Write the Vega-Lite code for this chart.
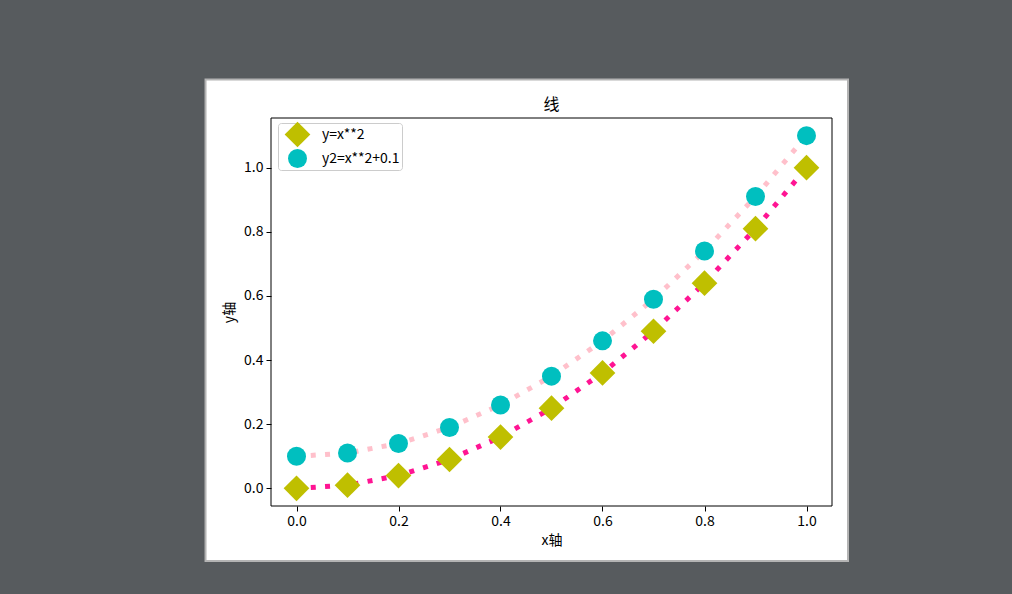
{
  "$schema": "https://vega.github.io/schema/vega-lite/v6.json",
  "width": 561,
  "height": 388,
  "autosize": {"type": "none"},
  "padding": {"left": 271, "top": 118, "right": 180, "bottom": 88},
  "background": "white",
  "config": {
    "font": "Noto Sans CJK SC",
    "view": {"stroke": null},
    "legend": {
      "title": null,
      "orient": "none",
      "legendX": 7,
      "legendY": 5,
      "fillColor": "white",
      "strokeColor": "#cccccc",
      "cornerRadius": 3,
      "padding": 2,
      "rowPadding": 1,
      "symbolSize": 400,
      "symbolOffset": 8,
      "symbolOpacity": 1,
      "symbolStrokeWidth": 0,
      "labelFontSize": 14,
      "labelColor": "black",
      "labelOffset": 15
    }
  },
  "title": {
    "text": "线",
    "fontSize": 16,
    "fontWeight": "normal",
    "color": "black",
    "anchor": "middle",
    "frame": "group",
    "baseline": "bottom",
    "offset": 0,
    "dy": 450,
    "zindex": 1
  },
  "data": {
    "values": [
      {"x": 0.0, "y": 0.0, "series": "y=x**2"},
      {"x": 0.1, "y": 0.01, "series": "y=x**2"},
      {"x": 0.2, "y": 0.04, "series": "y=x**2"},
      {"x": 0.3, "y": 0.09, "series": "y=x**2"},
      {"x": 0.4, "y": 0.16, "series": "y=x**2"},
      {"x": 0.5, "y": 0.25, "series": "y=x**2"},
      {"x": 0.6, "y": 0.36, "series": "y=x**2"},
      {"x": 0.7, "y": 0.49, "series": "y=x**2"},
      {"x": 0.8, "y": 0.64, "series": "y=x**2"},
      {"x": 0.9, "y": 0.81, "series": "y=x**2"},
      {"x": 1.0, "y": 1.0, "series": "y=x**2"},
      {"x": 0.0, "y": 0.1, "series": "y2=x**2+0.1"},
      {"x": 0.1, "y": 0.11, "series": "y2=x**2+0.1"},
      {"x": 0.2, "y": 0.14, "series": "y2=x**2+0.1"},
      {"x": 0.3, "y": 0.19, "series": "y2=x**2+0.1"},
      {"x": 0.4, "y": 0.26, "series": "y2=x**2+0.1"},
      {"x": 0.5, "y": 0.35, "series": "y2=x**2+0.1"},
      {"x": 0.6, "y": 0.46, "series": "y2=x**2+0.1"},
      {"x": 0.7, "y": 0.59, "series": "y2=x**2+0.1"},
      {"x": 0.8, "y": 0.74, "series": "y2=x**2+0.1"},
      {"x": 0.9, "y": 0.91, "series": "y2=x**2+0.1"},
      {"x": 1.0, "y": 1.1, "series": "y2=x**2+0.1"}
    ]
  },
  "layer": [
    {
      "data": {"values": [{}]},
      "mark": {"type": "rect", "fill": "transparent", "stroke": "#575b5e", "strokeWidth": 400},
      "encoding": {
        "x": {"datum": -0.5706, "type": "quantitative", "scale": {"domain": [-0.05, 1.05], "nice": false, "zero": false}},
        "x2": {"datum": 1.4735},
        "y": {"datum": 1.8989, "type": "quantitative", "scale": {"domain": [-0.055, 1.155], "nice": false, "zero": false}},
        "y2": {"datum": -0.8501}
      }
    },
    {
      "data": {"values": [{}]},
      "mark": {"type": "rect", "fill": "transparent", "stroke": "#b4b4b4", "strokeWidth": 2},
      "encoding": {
        "x": {"datum": -0.1784, "type": "quantitative", "scale": {"domain": [-0.05, 1.05], "nice": false, "zero": false}},
        "x2": {"datum": 1.0814},
        "y": {"datum": 1.2752, "type": "quantitative", "scale": {"domain": [-0.055, 1.155], "nice": false, "zero": false}},
        "y2": {"datum": -0.2264}
      }
    },
    {
      "mark": {"type": "line", "strokeWidth": 5, "strokeDash": [5, 9.3], "strokeCap": "butt"},
      "encoding": {
        "x": {"field": "x", "type": "quantitative", "scale": {"domain": [-0.05, 1.05], "nice": false, "zero": false},
          "axis": {"title": "x轴", "values": [0, 0.2, 0.4, 0.6, 0.8, 1.0], "format": ".1f", "zindex": 2, "domain": false, "grid": false, "tickColor": "black", "tickSize": 5, "labelColor": "black", "labelFontSize": 14, "labelPadding": 3, "titleFontSize": 14, "titleFontWeight": "normal", "titleColor": "black", "titlePadding": 5}},
        "y": {"field": "y", "type": "quantitative", "scale": {"domain": [-0.055, 1.155], "nice": false, "zero": false},
          "axis": {"title": "y轴", "values": [0, 0.2, 0.4, 0.6, 0.8, 1.0], "format": ".1f", "zindex": 2, "domain": false, "grid": false, "tickColor": "black", "tickSize": 5, "labelColor": "black", "labelFontSize": 14, "labelPadding": 3, "titleFontSize": 14, "titleFontWeight": "normal", "titleColor": "black", "titlePadding": 7}},
        "stroke": {"field": "series", "type": "nominal", "scale": {"range": ["#ffc0cb", "#ff1493"]}, "legend": null},
        "detail": {"field": "series"}
      }
    },
    {
      "mark": {"type": "point", "filled": true, "opacity": 1, "strokeWidth": 0},
      "encoding": {
        "x": {"field": "x", "type": "quantitative", "scale": {"domain": [-0.05, 1.05], "nice": false, "zero": false}},
        "y": {"field": "y", "type": "quantitative", "scale": {"domain": [-0.055, 1.155], "nice": false, "zero": false}},
        "fill": {"field": "series", "type": "nominal", "scale": {"domain": ["y=x**2", "y2=x**2+0.1"], "range": ["#bfbf00", "#00bfbf"]},
          "legend": {"encode": {"symbols": {"update": {"size": {"signal": "datum.value === 'y=x**2' ? 660 : 361"}}}}}},
        "shape": {"field": "series", "type": "nominal", "scale": {"domain": ["y=x**2", "y2=x**2+0.1"], "range": ["diamond", "circle"]},
          "legend": {"encode": {"symbols": {"update": {"size": {"signal": "datum.value === 'y=x**2' ? 660 : 361"}}}}}},
        "size": {"field": "series", "type": "nominal", "scale": {"range": [361, 660]}, "legend": null}
      }
    },
    {
      "data": {"values": [{}]},
      "mark": {"type": "rect", "fill": "transparent", "stroke": "black", "strokeWidth": 1},
      "encoding": {
        "x": {"datum": -0.05, "type": "quantitative", "scale": {"domain": [-0.05, 1.05], "nice": false, "zero": false}},
        "x2": {"datum": 1.05},
        "y": {"datum": -0.055, "type": "quantitative", "scale": {"domain": [-0.055, 1.155], "nice": false, "zero": false}},
        "y2": {"datum": 1.155}
      }
    }
  ]
}
